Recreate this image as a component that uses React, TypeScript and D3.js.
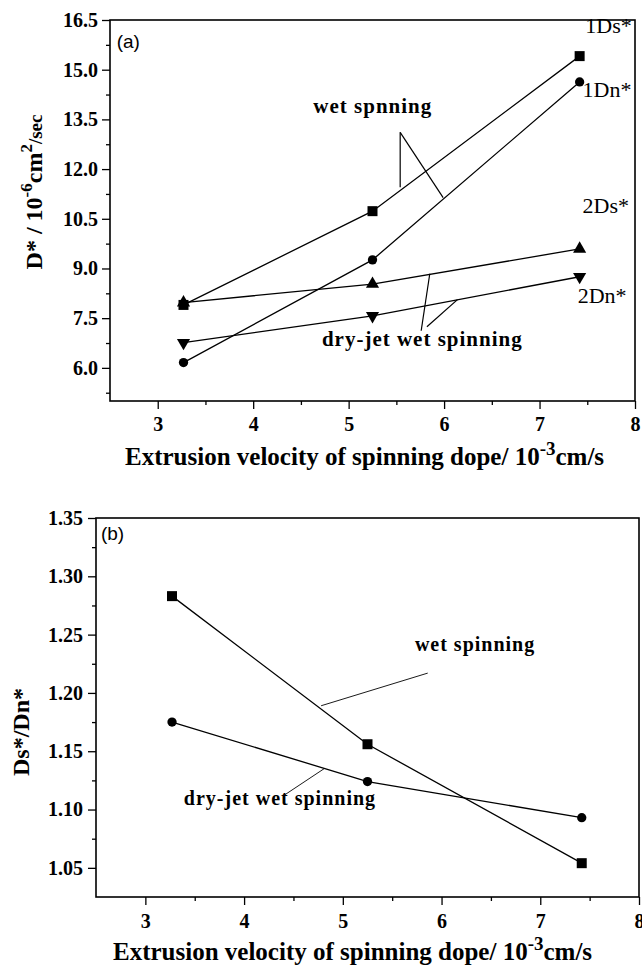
import { useRef, useEffect } from 'react'
import * as d3 from 'd3'

// extrusion velocity of spinning dope (10^-3 cm/s)
const velocity = [3.27, 5.25, 7.42]

// panel (a): D* in 10^-6 cm2/sec
const ds1 = [7.9, 10.73, 15.41]
const dn1 = [6.16, 9.26, 14.63]
const ds2 = [7.97, 8.53, 9.59]
const dn2 = [6.76, 7.57, 8.75]

// panel (b): Ds*/Dn*
const ratioWet = [1.283, 1.156, 1.054]
const ratioDry = [1.175, 1.124, 1.093]

const xTicks = [3, 4, 5, 6, 7, 8]
const xMinor = [3.5, 4.5, 5.5, 6.5, 7.5]
const yTicksA = [6.0, 7.5, 9.0, 10.5, 12.0, 13.5, 15.0, 16.5]
const yMinorA = [5.25, 6.75, 8.25, 9.75, 11.25, 12.75, 14.25, 15.75]
const yTicksB = [1.05, 1.1, 1.15, 1.2, 1.25, 1.3, 1.35]
const yMinorB = [1.075, 1.125, 1.175, 1.225, 1.275, 1.325]

const SERIF = '"Liberation Serif", "Times New Roman", serif'
const SANS = '"Liberation Sans", Arial, sans-serif'

type Sym = 'square' | 'circle' | 'up' | 'down'
type Series = { values: number[]; sym: Sym }
type Note = { text: string; x: number; y: number; bold?: boolean; size: number; spacing?: number; font?: string }
type Leader = [number, number, number, number]

type PanelSpec = {
  xDomain: [number, number]
  yDomain: [number, number]
  xRange: [number, number]
  yRange: [number, number]
  yTicks: number[]
  yMinor: number[]
  yFormat: (d: number) => string
  yPad: number
  xPad: number
  series: Series[]
  notes: Note[]
  leaders: Leader[]
  leaderWidth: number
}

const panelA: PanelSpec = {
  xDomain: [2.5, 8],
  yDomain: [5.0, 16.5],
  xRange: [110, 635],
  yRange: [401, 20],
  yTicks: yTicksA,
  yMinor: yMinorA,
  yFormat: (d) => d.toFixed(1),
  yPad: 4,
  xPad: 8,
  series: [
    { values: ds1, sym: 'square' },
    { values: dn1, sym: 'circle' },
    { values: ds2, sym: 'up' },
    { values: dn2, sym: 'down' },
  ],
  notes: [
    { text: '(a)', x: 2.57, y: 15.65, size: 19, font: SANS },
    { text: '1Ds*', x: 7.48, y: 16.11, size: 22 },
    { text: '1Dn*', x: 7.45, y: 14.17, size: 22 },
    { text: '2Ds*', x: 7.45, y: 10.66, size: 22 },
    { text: '2Dn*', x: 7.4, y: 7.97, size: 22 },
    { text: 'wet spnning', x: 4.63, y: 13.69, size: 21, bold: true, spacing: 1 },
    { text: 'dry-jet wet spinning', x: 4.72, y: 6.66, size: 21, bold: true, spacing: 1 },
  ],
  leaders: [
    [5.54, 13.11, 5.54, 11.45],
    [5.54, 13.11, 5.99, 11.14],
    [5.76, 7.12, 5.85, 8.84],
    [5.82, 7.24, 6.14, 8.06],
  ],
  leaderWidth: 1.2,
}

const panelB: PanelSpec = {
  xDomain: [2.5, 8],
  yDomain: [1.025, 1.35],
  xRange: [96, 639],
  yRange: [897, 518],
  yTicks: yTicksB,
  yMinor: yMinorB,
  yFormat: (d) => d.toFixed(2),
  yPad: 5,
  xPad: 9,
  series: [
    { values: ratioWet, sym: 'square' },
    { values: ratioDry, sym: 'circle' },
  ],
  notes: [
    { text: '(b)', x: 2.55, y: 1.331, size: 19, font: SANS },
    { text: 'wet spinning', x: 5.73, y: 1.236, size: 20, bold: true, spacing: 1 },
    { text: 'dry-jet wet spinning', x: 3.39, y: 1.1036, size: 20, bold: true, spacing: 1 },
  ],
  leaders: [
    [5.86, 1.217, 4.78, 1.189],
    [4.41, 1.1125, 4.81, 1.135],
  ],
  leaderWidth: 0.9,
}

function symbolPath(sym: Sym) {
  if (sym === 'square') return d3.symbol(d3.symbolSquare, 100)()
  if (sym === 'circle') return d3.symbol(d3.symbolCircle, 68)()
  return d3.symbol(d3.symbolTriangle, 75)()
}

function drawPanel(g: d3.Selection<SVGGElement, unknown, null, undefined>, p: PanelSpec) {
  const x = d3.scaleLinear().domain(p.xDomain).range(p.xRange)
  const y = d3.scaleLinear().domain(p.yDomain).range(p.yRange)

  // major + minor ticks, outward
  const styleAxis = (a: d3.Selection<SVGGElement, unknown, null, undefined>) => {
    a.select('.domain').remove()
    a.selectAll('.tick line').attr('stroke', '#000').attr('stroke-width', 1.3)
    a.selectAll('text')
      .attr('fill', '#000')
      .style('font-family', SERIF)
      .style('font-size', '20px')
      .style('font-weight', 'bold')
  }

  g.append('g')
    .attr('transform', `translate(${p.xRange[0]},0)`)
    .call(d3.axisLeft(y).tickValues(p.yTicks).tickFormat((d) => p.yFormat(d as number)).tickSize(8).tickSizeOuter(0).tickPadding(p.yPad))
    .call(styleAxis)
  g.append('g')
    .attr('transform', `translate(${p.xRange[0]},0)`)
    .call(d3.axisLeft(y).tickValues(p.yMinor).tickFormat(() => '').tickSize(4).tickSizeOuter(0))
    .call(styleAxis)
  g.append('g')
    .attr('transform', `translate(0,${p.yRange[0]})`)
    .call(d3.axisBottom(x).tickValues(xTicks).tickFormat((d) => String(d)).tickSize(8).tickSizeOuter(0).tickPadding(p.xPad))
    .call(styleAxis)
  g.append('g')
    .attr('transform', `translate(0,${p.yRange[0]})`)
    .call(d3.axisBottom(x).tickValues(xMinor).tickFormat(() => '').tickSize(4).tickSizeOuter(0))
    .call(styleAxis)

  // frame
  g.append('rect')
    .attr('x', p.xRange[0])
    .attr('y', p.yRange[1])
    .attr('width', p.xRange[1] - p.xRange[0])
    .attr('height', p.yRange[0] - p.yRange[1])
    .attr('fill', 'none')
    .attr('stroke', '#000')
    .attr('stroke-width', 1.6)

  const line = d3.line<number>().x((_, i) => x(velocity[i])).y((d) => y(d))

  for (const s of p.series) {
    g.append('path')
      .attr('d', line(s.values))
      .attr('fill', 'none')
      .attr('stroke', '#000')
      .attr('stroke-width', 1.3)

    g.selectAll(null)
      .data(s.values)
      .join('path')
      .attr('d', symbolPath(s.sym))
      .attr('transform', (d, i) => `translate(${x(velocity[i])},${y(d)})${s.sym === 'down' ? ' rotate(180)' : ''}`)
      .attr('fill', '#000')
  }

  // leader lines for annotations
  g.selectAll(null)
    .data(p.leaders)
    .join('line')
    .attr('x1', (d) => x(d[0]))
    .attr('y1', (d) => y(d[1]))
    .attr('x2', (d) => x(d[2]))
    .attr('y2', (d) => y(d[3]))
    .attr('stroke', '#000')
    .attr('stroke-width', p.leaderWidth)

  g.selectAll(null)
    .data(p.notes)
    .join('text')
    .attr('x', (d) => x(d.x))
    .attr('y', (d) => y(d.y))
    .attr('fill', '#000')
    .style('font-family', (d) => d.font ?? SERIF)
    .style('font-size', (d) => `${d.size}px`)
    .style('font-weight', (d) => (d.bold ? 'bold' : 'normal'))
    .style('letter-spacing', (d) => `${d.spacing ?? 0}px`)
    .text((d) => d.text)
}

export default function App() {
  const svgRef = useRef<SVGSVGElement>(null)

  useEffect(() => {
    if (!svgRef.current) return
    const svg = d3.select(svgRef.current)
    svg.selectAll('*').remove()

    drawPanel(svg.append('g'), panelA)
    drawPanel(svg.append('g'), panelB)

    const bold = (t: d3.Selection<SVGTextElement, unknown, null, undefined>) =>
      t.attr('fill', '#000').style('font-family', SERIF).style('font-weight', 'bold')

    // y titles
    const ya = svg.append('text').attr('transform', 'translate(42,192) rotate(-90)').attr('text-anchor', 'middle').call(bold).style('font-size', '24px')
    ya.append('tspan').text('D* / 10')
    ya.append('tspan').attr('dy', -10).style('font-size', '17px').text('-6')
    ya.append('tspan').attr('dy', 10).text('cm')
    ya.append('tspan').attr('dy', -10).style('font-size', '17px').text('2')
    ya.append('tspan').attr('dy', 10).style('font-size', '19px').text('/sec')

    svg.append('text').attr('transform', 'translate(29,732) rotate(-90)').attr('text-anchor', 'middle').call(bold).style('font-size', '24px').text('Ds*/Dn*')

    // x titles
    const xTitle = (left: number, base: number) => {
      const t = svg.append('text').attr('x', left).attr('y', base).call(bold).style('font-size', '25px')
      t.append('tspan').text('Extrusion velocity of spinning dope/ 10')
      t.append('tspan').attr('dy', -10).style('font-size', '19px').text('-3')
      t.append('tspan').attr('dy', 10).text('cm/s')
    }
    xTitle(125, 465)
    xTitle(113, 960)
  }, [])

  return <svg ref={svgRef} width={642} height={965} style={{ position: 'absolute', left: 0, top: 0, background: '#fff' }} />
}
